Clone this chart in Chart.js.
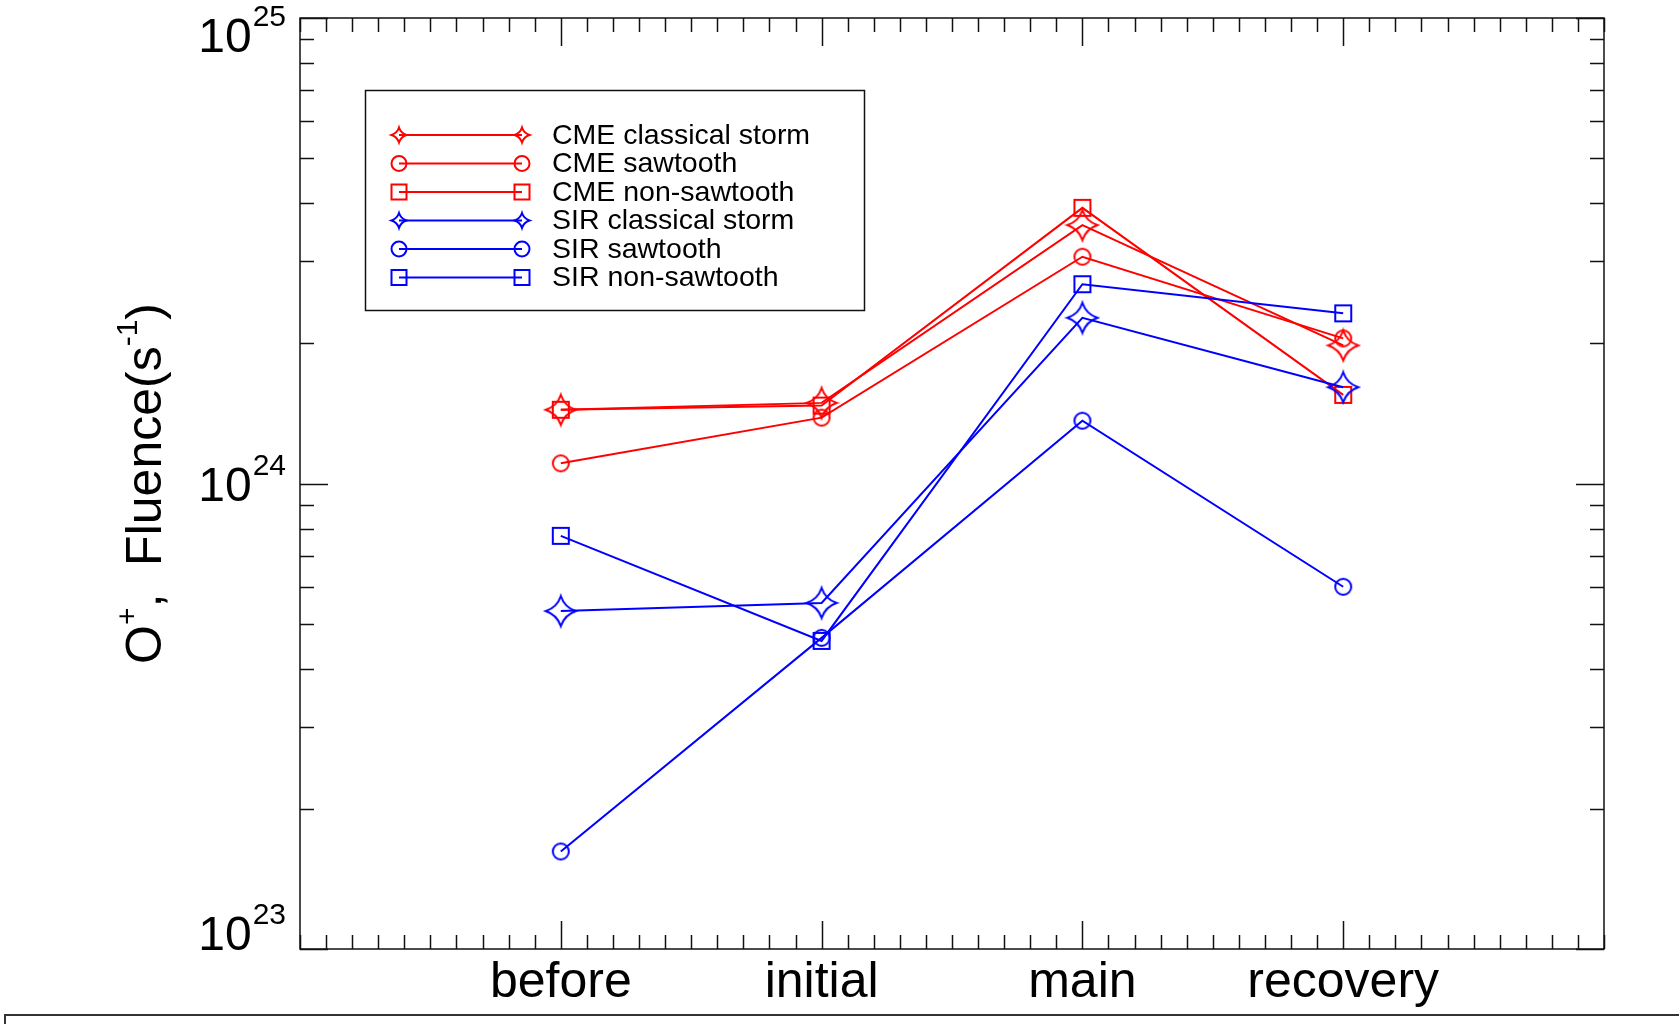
<!DOCTYPE html>
<html>
<head>
<meta charset="utf-8">
<script src="https://cdn.jsdelivr.net/npm/chart.js@4.4.1/dist/chart.umd.min.js"></script>
<style>
  html, body { margin: 0; padding: 0; background: #fff; }
</style>
</head>
<body>
<canvas id="grafico" width="1679" height="1024"></canvas>
<script>
// --- DADOS ---
// fases da tempestade (eixo x linear 0..5, fases em 1..4)
const categorias = ['before', 'initial', 'main', 'recovery'];
const posicoes = [1, 2, 3, 4];

// O+ fluence (s^-1)
const cmeClassico   = [1.44e24, 1.49e24, 3.59e24, 1.98e24];
const cmeSawtooth   = [1.105e24, 1.385e24, 3.07e24, 2.05e24];
const cmeNaoSaw     = [1.44e24, 1.47e24, 3.91e24, 1.55e24];
const sirClassico   = [5.32e23, 5.54e23, 2.27e24, 1.61e24];
const sirSawtooth   = [1.62e23, 4.66e23, 1.364e24, 6.0e23];
const sirNaoSaw     = [7.72e23, 4.59e23, 2.68e24, 2.32e24];

const nomesSeries = ['CME classical storm', 'CME sawtooth', 'CME non-sawtooth',
                     'SIR classical storm', 'SIR sawtooth', 'SIR non-sawtooth'];

// rótulos do eixo y (potências de 10)
const expoentesY = [23, 24, 25];

const FONTE = '"Liberation Sans", Arial, Helvetica, sans-serif';
const VERMELHO = '#ff0000';
const AZUL = '#0000ff';

// --- SÍMBOLOS ---
function desenharForma(g, forma, cx, cy, r, cor) {
    g.save();
    g.strokeStyle = cor;
    g.lineWidth = 2;
    g.beginPath();
    if (forma === 'estrela') {
        // estrela de 4 pontas com lados côncavos
        const c = 0.25 * r;
        g.moveTo(cx, cy - r);
        g.quadraticCurveTo(cx + c, cy - c, cx + r, cy);
        g.quadraticCurveTo(cx + c, cy + c, cx, cy + r);
        g.quadraticCurveTo(cx - c, cy + c, cx - r, cy);
        g.quadraticCurveTo(cx - c, cy - c, cx, cy - r);
        g.closePath();
    } else if (forma === 'circulo') {
        g.arc(cx, cy, r, 0, Math.PI * 2);
    } else {
        g.rect(cx - r, cy - r, 2 * r, 2 * r);
    }
    g.stroke();
    g.restore();
}

function marcador(forma, cor, r) {
    const c = document.createElement('canvas');
    const s = Math.ceil(r * 2 + 6);
    c.width = s; c.height = s;
    desenharForma(c.getContext('2d'), forma, s / 2, s / 2, r, cor);
    return c;
}

const formas = ['estrela', 'circulo', 'quadrado', 'estrela', 'circulo', 'quadrado'];
const cores = [VERMELHO, VERMELHO, VERMELHO, AZUL, AZUL, AZUL];
const tamanhos = { estrela: 15, circulo: 8, quadrado: 8 };
const tamanhosLegenda = { estrela: 7.5, circulo: 7.5, quadrado: 7.5 };
const series = [cmeClassico, cmeSawtooth, cmeNaoSaw, sirClassico, sirSawtooth, sirNaoSaw];

// --- EIXOS ESTILO IDL (caixa, ticks, rótulos) ---
const eixosPlugin = {
    id: 'eixosIDL',
    afterDraw(chart) {
        const { ctx, chartArea: a, scales: { x, y } } = chart;
        ctx.save();
        ctx.strokeStyle = '#111';
        ctx.lineWidth = 1.5;
        ctx.strokeRect(a.left, a.top, a.right - a.left, a.bottom - a.top);

        // ticks do eixo x (base e topo)
        ctx.beginPath();
        for (let i = 0; i <= 50; i++) {
            const v = i / 10;
            const px = Math.round(x.getPixelForValue(v)) + 0.5;
            const len = posicoes.includes(v) ? 28 : 14;
            ctx.moveTo(px, a.bottom); ctx.lineTo(px, a.bottom - len);
            ctx.moveTo(px, a.top); ctx.lineTo(px, a.top + len);
        }
        // ticks do eixo y (esquerda e direita)
        for (let e = expoentesY[0]; e < expoentesY[expoentesY.length - 1] + 1; e++) {
            for (let k = 1; k <= 9; k++) {
                const v = k * Math.pow(10, e);
                if (v > y.max * 1.0001) break;
                const py = Math.round(y.getPixelForValue(v)) + 0.5;
                const len = k === 1 ? 28 : 14;
                ctx.moveTo(a.left, py); ctx.lineTo(a.left + len, py);
                ctx.moveTo(a.right, py); ctx.lineTo(a.right - len, py);
            }
        }
        ctx.stroke();

        // rótulos x
        ctx.fillStyle = '#000';
        ctx.font = '50px ' + FONTE;
        ctx.textAlign = 'center';
        ctx.textBaseline = 'alphabetic';
        categorias.forEach((c, i) => {
            ctx.fillText(c, x.getPixelForValue(posicoes[i]), 997);
        });

        // rótulos y: 10^n
        ctx.textAlign = 'left';
        expoentesY.forEach((e, i) => {
            const py = y.getPixelForValue(Math.pow(10, e));
            let base = py + 17;
            if (i === 0) base = py + 1;
            if (i === expoentesY.length - 1) base = py + 34;
            const exp = String(e);
            ctx.font = '30px ' + FONTE;
            const we = ctx.measureText(exp).width;
            ctx.font = '48px ' + FONTE;
            const wb = ctx.measureText('10').width;
            const x0 = a.left - 14 - we - wb - 1;
            ctx.fillText('10', x0, base);
            ctx.font = '30px ' + FONTE;
            ctx.fillText(exp, x0 + wb + 1, base - 26);
        });

        // título do eixo y: O+, Fluence(s-1)
        ctx.translate(161, (a.top + a.bottom) / 2);
        ctx.rotate(-Math.PI / 2);
        const partes = [['O', 0], ['+', 1], [',  Fluence(s', 0], ['-1', 1], [')', 0]];
        let total = 0;
        partes.forEach(p => {
            ctx.font = (p[1] ? '30px ' : '50px ') + FONTE;
            total += ctx.measureText(p[0]).width;
        });
        let xx = -total / 2;
        partes.forEach(p => {
            ctx.font = (p[1] ? '30px ' : '50px ') + FONTE;
            ctx.fillText(p[0], xx, p[1] ? -24 : 0);
            xx += ctx.measureText(p[0]).width;
        });
        ctx.restore();

        // moldura inferior cortada da figura
        ctx.save();
        ctx.strokeStyle = '#333';
        ctx.lineWidth = 2;
        ctx.beginPath();
        ctx.moveTo(5, 1024); ctx.lineTo(5, 1015); ctx.lineTo(1679, 1015);
        ctx.stroke();
        ctx.restore();
    }
};

// --- LEGENDA ---
const legendaPlugin = {
    id: 'legendaIDL',
    afterDraw(chart) {
        const ctx = chart.ctx;
        ctx.save();
        ctx.strokeStyle = '#111';
        ctx.lineWidth = 1.5;
        ctx.strokeRect(365.5, 90.5, 499, 220);
        ctx.font = '28.5px ' + FONTE;
        ctx.fillStyle = '#000';
        ctx.textBaseline = 'middle';
        nomesSeries.forEach((nome, i) => {
            const yy = 135 + i * 28.5;
            ctx.strokeStyle = cores[i];
            ctx.lineWidth = 2;
            ctx.beginPath();
            ctx.moveTo(399, yy); ctx.lineTo(522, yy);
            ctx.stroke();
            desenharForma(ctx, formas[i], 399, yy, tamanhosLegenda[formas[i]], cores[i]);
            desenharForma(ctx, formas[i], 522, yy, tamanhosLegenda[formas[i]], cores[i]);
            ctx.fillText(nome, 552, yy + 1);
        });
        ctx.restore();
    }
};

const ctxGrafico = document.getElementById('grafico');
new Chart(ctxGrafico, {
    type: 'line',
    data: {
        datasets: series.map((s, i) => ({
            label: nomesSeries[i],
            data: s.map((v, j) => ({ x: posicoes[j], y: v })),
            borderColor: cores[i],
            backgroundColor: cores[i],
            borderWidth: 2,
            fill: false,
            tension: 0,
            pointStyle: marcador(formas[i], cores[i], tamanhos[formas[i]]),
            order: series.length - i
        }))
    },
    options: {
        responsive: false,
        animation: false,
        layout: { padding: { left: 300, right: 75, top: 18, bottom: 75 } },
        scales: {
            x: { type: 'linear', min: 0, max: 5, display: false },
            y: { type: 'logarithmic', min: 1e23, max: 1e25, display: false }
        },
        plugins: {
            legend: { display: false },
            tooltip: { enabled: false }
        }
    },
    plugins: [eixosPlugin, legendaPlugin]
});
</script>
</body>
</html>
